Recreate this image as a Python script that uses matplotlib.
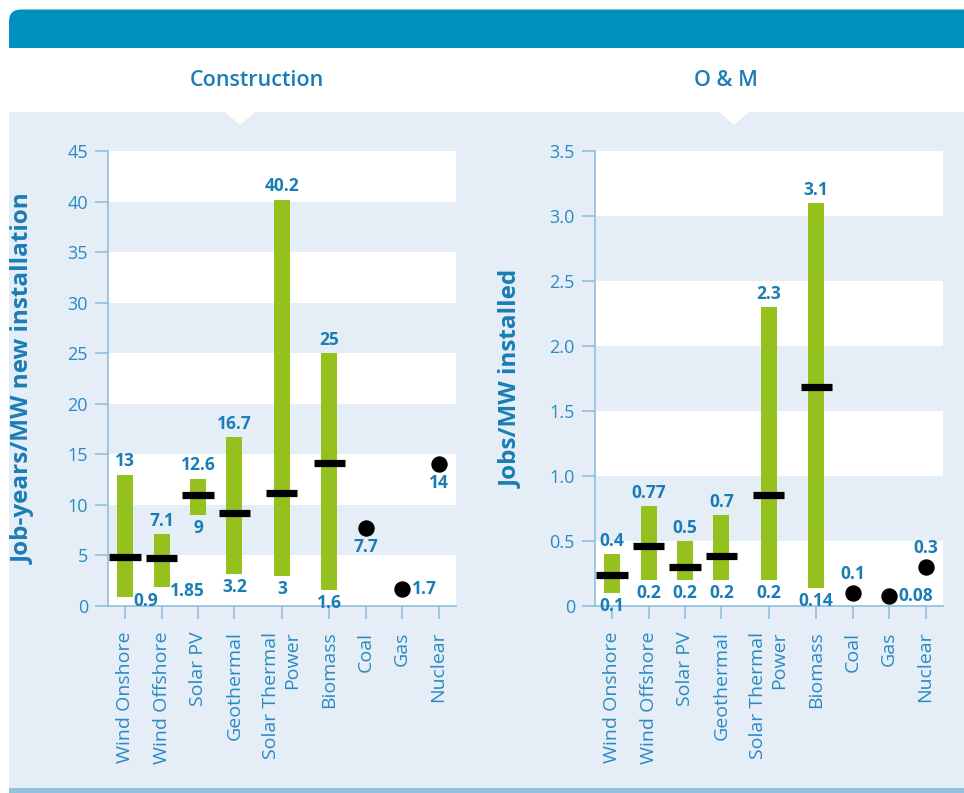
import matplotlib
matplotlib.use("Agg")
import matplotlib.pyplot as plt
from matplotlib.patches import Rectangle, Polygon, FancyBboxPatch

plt.rcParams['font.family'] = ['Open Sans', 'DejaVu Sans']

# ---------------- data ----------------
categories = ["Wind Onshore", "Wind Offshore", "Solar PV", "Geothermal",
              "Solar Thermal\nPower", "Biomass", "Coal", "Gas", "Nuclear"]
range_cats = ["Wind Onshore", "Wind Offshore", "Solar PV", "Geothermal",
              "Solar Thermal Power", "Biomass"]
point_cats = ["Coal", "Gas", "Nuclear"]

# Construction (job-years / MW new installation)
cons_low = [0.9, 1.85, 9, 3.2, 3, 1.6]
cons_high = [13, 7.1, 12.6, 16.7, 40.2, 25]
cons_median = [4.8, 4.7, 11.0, 9.2, 11.2, 14.1]
cons_points = [7.7, 1.7, 14]
cons_yticks = [0, 5, 10, 15, 20, 25, 30, 35, 40, 45]
cons_yticklabels = ["0", "5", "10", "15", "20", "25", "30", "35", "40", "45"]

# O & M (jobs / MW installed)
om_low = [0.1, 0.2, 0.2, 0.2, 0.2, 0.14]
om_high = [0.4, 0.77, 0.5, 0.7, 2.3, 3.1]
om_median = [0.24, 0.46, 0.30, 0.385, 0.855, 1.685]
om_points = [0.1, 0.08, 0.3]
om_yticks = [0, 0.5, 1.0, 1.5, 2.0, 2.5, 3.0, 3.5]
om_yticklabels = ["0", "0.5", "1.0", "1.5", "2.0", "2.5", "3.0", "3.5"]

# ---------------- style ----------------
xpos = [0, 1, 2, 3, 4.3, 5.6, 6.6, 7.6, 8.6]
cons_low_place = ['right', 'right', 'below', 'below', 'below', 'below']
om_low_place = ['below'] * 6
cons_point_place = ['below', 'right', 'below']
om_point_place = ['above', 'right', 'above']

GREEN = "#95C11F"
PANEL = "#E5EEF7"
SPINE = "#8FBEDF"
TEXT = "#1A7DB5"
TICKTXT = "#2A8AC2"
TOPBAND = "#0090C0"

W, H = 964, 793
fig = plt.figure(figsize=(W / 100, H / 100), dpi=100)
fig.patch.set_facecolor("white")

# background drawing axes in pixel units
bg = fig.add_axes([0, 0, 1, 1])
bg.set_xlim(0, W)
bg.set_ylim(H, 0)
bg.axis('off')
bg.set_zorder(-5)
bg.add_patch(FancyBboxPatch((9, 9.5), 1000, 80, boxstyle="round,pad=0,rounding_size=12",
                            fc=TOPBAND, ec="none"))
bg.add_patch(Rectangle((0, 48), W, 70, fc="white", ec="none"))
bg.add_patch(Rectangle((9, 112), W, 676, fc=PANEL, ec="none"))
bg.add_patch(Rectangle((9, 788), W, 6, fc="#92C1DF", ec="none"))
bg.add_patch(Polygon([(224, 111), (256, 111), (240, 125)], closed=True, fc="white", ec="none"))
bg.add_patch(Polygon([(718, 111), (750, 111), (734, 125)], closed=True, fc="white", ec="none"))
bg.text(257, 80, "Construction", ha='center', va='center', fontsize=15.5,
        fontweight='semibold', color=TEXT)
bg.text(726, 80, "O & M", ha='center', va='center', fontsize=15.5,
        fontweight='semibold', color=TEXT)


def ax_rect(x0, x1, y0, y1):
    return [x0 / W, 1 - y1 / H, (x1 - x0) / W, (y1 - y0) / H]


def draw_panel(ax, low, high, median, points, low_place, point_place,
               yticks, yticklabels, ylabel):
    ax.set_facecolor("white")
    for j, (a, b) in enumerate(zip(yticks[:-1], yticks[1:])):
        if j % 2 == 1:
            ax.axhspan(a, b, color=PANEL, lw=0, zorder=0)
    n = len(low)
    xr = xpos[:n]
    xp = xpos[n:]
    hw = 0.22
    ax.bar(xr, [h - l for h, l in zip(high, low)], bottom=low, width=2 * hw,
           color=GREEN, zorder=2)
    ax.hlines(median, [x - 0.43 for x in xr], [x + 0.43 for x in xr],
              color='black', lw=5.2, zorder=3)
    ax.plot(xp, points, 'o', color='black', ms=10.8, zorder=3, clip_on=False)

    lab = dict(fontsize=12.5, fontweight='bold', color=TEXT, textcoords='offset points',
               annotation_clip=False)
    for x, h in zip(xr, high):
        ax.annotate(f"{h:g}", (x, h), xytext=(0, 3), ha='center', va='bottom', **lab)
    for x, l, p in zip(xr, low, low_place):
        if p == 'right':
            ax.annotate(f"{l:g}", (x + hw, l), xytext=(0, -3), ha='left', va='center', **lab)
        else:
            ax.annotate(f"{l:g}", (x, l), xytext=(0, -3), ha='center', va='top', **lab)
    for x, v, p in zip(xp, points, point_place):
        if p == 'right':
            ax.annotate(f"{v:g}", (x, v), xytext=(7, 0), ha='left', va='center', **lab)
        elif p == 'above':
            ax.annotate(f"{v:g}", (x, v), xytext=(0, 7), ha='center', va='bottom', **lab)
        else:
            ax.annotate(f"{v:g}", (x, v), xytext=(0, -7), ha='center', va='top', **lab)

    ax.set_xlim(-0.47, 9.08)
    ax.set_ylim(yticks[0], yticks[-1])
    ax.set_yticks(yticks)
    ax.set_yticklabels(yticklabels)
    ax.set_xticks(xpos)
    ax.set_xticklabels(categories, rotation=90, ha='center', va='top',
                       multialignment='right')
    for s in ['top', 'right']:
        ax.spines[s].set_visible(False)
    for s in ['left', 'bottom']:
        ax.spines[s].set_color(SPINE)
        ax.spines[s].set_linewidth(1.2)
    ax.tick_params(axis='y', direction='out', length=9.4, width=1.2, color=SPINE,
                   labelsize=13, labelcolor=TICKTXT, pad=5)
    ax.tick_params(axis='x', direction='out', length=9.4, width=1.2, color=SPINE,
                   labelsize=14, labelcolor=TICKTXT, pad=9)
    ax.set_ylabel(ylabel, fontsize=17.5, fontweight='bold', color=TEXT)
    ax.yaxis.set_label_coords(-0.207, 0.5)


ax1 = fig.add_axes(ax_rect(108, 456, 151, 606))
draw_panel(ax1, cons_low, cons_high, cons_median, cons_points, cons_low_place,
           cons_point_place, cons_yticks, cons_yticklabels,
           "Job-years/MW new installation")

ax2 = fig.add_axes(ax_rect(595, 943, 151, 606))
draw_panel(ax2, om_low, om_high, om_median, om_points, om_low_place,
           om_point_place, om_yticks, om_yticklabels, "Jobs/MW installed")

fig.savefig("out.png", dpi=100)
